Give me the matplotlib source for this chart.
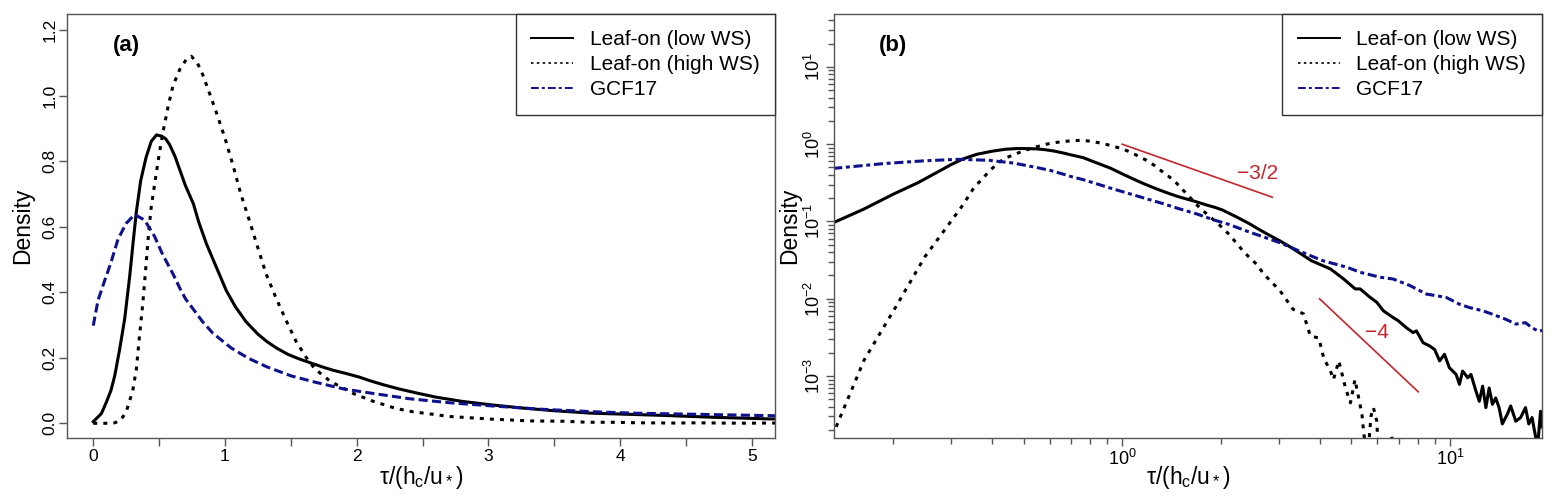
import numpy as np
import matplotlib
matplotlib.use('Agg')
import matplotlib.pyplot as plt
from matplotlib.lines import Line2D
from matplotlib.ticker import LogLocator, NullFormatter, FixedLocator

plt.rcParams['font.family'] = ['Liberation Sans', 'DejaVu Sans']
plt.rcParams['mathtext.fontset'] = 'custom'
plt.rcParams['mathtext.rm'] = 'Liberation Sans'
plt.rcParams['mathtext.it'] = 'Liberation Sans:italic'
plt.rcParams['mathtext.bf'] = 'Liberation Sans:bold'

# ---- data ----
labels = ['Leaf-on (low WS)', 'Leaf-on (high WS)', 'GCF17']

tau_low = [0.0, 0.062, 0.10, 0.134, 0.163, 0.20, 0.239, 0.277, 0.302, 0.327,
           0.36, 0.40, 0.44, 0.48, 0.52, 0.55, 0.58, 0.62, 0.66, 0.70,
           0.76, 0.80, 0.86, 0.92, 1.01, 1.08, 1.16, 1.25, 1.32, 1.39,
           1.48, 1.56, 1.66, 1.74, 1.82, 1.92, 2.02, 2.10, 2.20, 2.32,
           2.45, 2.6, 2.8, 3.03, 3.25, 3.48, 3.78, 4.32, 4.74, 5.14,
           5.32, 5.71, 5.98, 6.26, 6.71, 6.95, 7.37, 7.72, 7.90, 8.28,
           8.67, 8.98, 9.30, 9.62, 9.96, 10.44, 10.69, 10.93, 11.33, 11.59,
           12.0, 12.29, 12.58, 12.87, 13.17, 13.48, 13.79, 14.12, 14.45, 14.96,
           15.32, 15.88, 16.43, 17.0, 17.4, 17.8, 18.2, 18.5, 18.9, 19.1]
dens_low = [0.005, 0.03, 0.065, 0.10, 0.145, 0.225, 0.32, 0.45, 0.55, 0.645,
            0.74, 0.81, 0.86, 0.88, 0.876, 0.868, 0.85, 0.815, 0.77, 0.725,
            0.67, 0.615, 0.547, 0.49, 0.405, 0.355, 0.31, 0.272, 0.249, 0.23,
            0.21, 0.197, 0.183, 0.172, 0.162, 0.152, 0.141, 0.13, 0.118, 0.105,
            0.093, 0.080, 0.067, 0.056, 0.047, 0.039, 0.031, 0.0243, 0.018, 0.0134,
            0.0134, 0.0104, 0.0090, 0.0070, 0.0057, 0.0052, 0.0042, 0.00365, 0.00384, 0.0027,
            0.00245, 0.0022, 0.00157, 0.00191, 0.00128, 0.00105, 0.00078, 0.00116, 0.00095, 0.00105,
            0.00064, 0.00047, 0.00074, 0.00039, 0.0007, 0.00043, 0.00052, 0.00039, 0.00024, 0.00032,
            0.00041, 0.00026, 0.00029, 0.00039, 0.00024, 0.00029, 0.000175, 0.00012, 0.00035, 0.00022]

tau_high = [0.0, 0.134, 0.163, 0.206, 0.25, 0.30, 0.327, 0.352, 0.377, 0.40,
            0.42, 0.44, 0.466, 0.50, 0.53, 0.57, 0.605, 0.657, 0.706, 0.744,
            0.79, 0.83, 0.88, 0.933, 1.0, 1.059, 1.12, 1.186, 1.25, 1.312,
            1.39, 1.464, 1.54, 1.615, 1.68, 1.80, 1.98, 2.12, 2.30, 2.43,
            2.57, 2.70, 3.03, 3.32, 3.57, 3.75, 3.98, 4.12, 4.32, 4.41,
            4.58, 4.80, 4.97, 5.13, 5.39, 5.45, 5.6, 5.74, 5.84, 5.98,
            6.05, 6.3, 6.64, 6.9, 7.5, 10.0, 19.1]
dens_high = [0.0001, 0.00022, 0.0016, 0.0085, 0.035, 0.10, 0.165, 0.27, 0.37, 0.48,
             0.58, 0.66, 0.73, 0.82, 0.89, 0.97, 1.03, 1.08, 1.11, 1.12,
             1.10, 1.065, 1.01, 0.95, 0.87, 0.79, 0.70, 0.618, 0.535, 0.456,
             0.38, 0.314, 0.25, 0.202, 0.167, 0.128, 0.09, 0.068, 0.045, 0.035,
             0.028, 0.021, 0.0127, 0.0073, 0.0064, 0.0033, 0.0031, 0.0017, 0.00116, 0.0009,
             0.00157, 0.0007, 0.00045, 0.0009, 0.00032, 0.00019, 0.00008, 0.0003, 0.00039, 0.00026,
             0.0001, 0.00006, 0.00017, 0.00003, 0.00001, 0.000005, 0.000005]

tau_gcf = [0.0, 0.036, 0.087, 0.134, 0.188, 0.25, 0.314, 0.39, 0.466, 0.521,
           0.56, 0.605, 0.66, 0.70, 0.756, 0.83, 0.908, 1.047, 1.18, 1.32,
           1.50, 1.69, 1.90, 2.11, 2.40, 2.70, 3.03, 3.40, 3.82, 4.10,
           4.86, 5.32, 6.12, 6.71, 7.55, 8.48, 9.74, 10.69, 11.45, 12.58,
           13.48, 14.76, 15.89, 17.0, 17.8, 18.65, 19.1]
dens_gcf = [0.298, 0.375, 0.436, 0.49, 0.562, 0.61, 0.637, 0.62, 0.57, 0.52,
            0.49, 0.456, 0.41, 0.38, 0.35, 0.31, 0.275, 0.23, 0.198, 0.172,
            0.145, 0.125, 0.105, 0.092, 0.075, 0.063, 0.053, 0.043, 0.035, 0.031,
            0.0255, 0.022, 0.019, 0.018, 0.0148, 0.0115, 0.0104, 0.0085, 0.0077, 0.0070,
            0.0063, 0.00545, 0.0047, 0.0049, 0.0042, 0.0038, 0.0039]

# reference slopes in panel (b)
slope1_x = [1.0, 2.87]
slope1_y = [1.0, 0.206]
slope2_x = [4.0, 8.0]
slope2_y = [0.01, 0.000625]

series = [(np.array(tau_low), np.array(dens_low)),
          (np.array(tau_high), np.array(dens_high)),
          (np.array(tau_gcf), np.array(dens_gcf))]

navy = '#0d128c'
red = '#c4262e'
frame = '#555555'
lw = 2.2
styles_a = [dict(color='black', linestyle='-'),
            dict(color='black', linestyle=(0, (1.3, 2.0))),
            dict(color=navy, linestyle=(0, (3.0, 1.4)))]
styles_b = [dict(color='black', linestyle='-'),
            dict(color='black', linestyle=(0, (1.3, 2.0))),
            dict(color=navy, linestyle=(0, (3.0, 1.2, 1.3, 1.2)))]

leg_handles = [Line2D([], [], color='black', lw=1.4, linestyle='-'),
               Line2D([], [], color='black', lw=1.2, linestyle=(0, (1.5, 2.0))),
               Line2D([], [], color=navy, lw=1.4, linestyle=(0, (4, 1.6, 1.5, 1.6)))]

fig = plt.figure(figsize=(15.59, 5.01), dpi=100)
ax1 = fig.add_axes([0.04317, 0.1267, 0.4540, 0.8448])
ax2 = fig.add_axes([0.53496, 0.1267, 0.45394, 0.8448])

# ---- panel (a) ----
for (x, y), st in zip(series, styles_a):
    ax1.plot(x, y, lw=lw, dash_capstyle='butt', **st)
ax1.set_xlim(-0.197, 5.176)
ax1.set_ylim(-0.0433, 1.248)
xt = np.arange(0, 5.01, 0.5)
ax1.set_xticks(xt)
ax1.set_xticklabels([str(int(v)) if v == int(v) else '' for v in xt])
yt = np.arange(0, 1.21, 0.2)
ax1.set_yticks(yt)
ax1.set_yticklabels(['%.1f' % v for v in yt])
ax1.tick_params(axis='both', labelsize=12.5, length=6, width=1, color=frame, direction='out')
ax1.tick_params(axis='x', pad=2)
ax1.tick_params(axis='y', pad=1, labelrotation=90)
for lbl in ax1.get_yticklabels():
    lbl.set_va('center')
ax1.set_ylabel('Density', fontsize=16.5)
ax1.yaxis.set_label_coords(-0.047, 0.5)
ax1.set_xlabel(r'$\mathregular{\tau/(h_c/u_*)}$', fontsize=16.5)
ax1.xaxis.set_label_coords(0.5, -0.062)
ax1.text(0.083, 0.926, '(a)', transform=ax1.transAxes, fontsize=16,
         fontweight='bold', ha='center', va='center')

# ---- panel (b) ----
for (x, y), st in zip(series, styles_b):
    m = x > 0
    ax2.plot(x[m], y[m], lw=lw, dash_capstyle='butt', **st)
ax2.plot(slope1_x, slope1_y, color=red, lw=1.2)
ax2.plot(slope2_x, slope2_y, color=red, lw=1.2)
ax2.text(2.59, 0.415, '\u22123/2', color=red, fontsize=15, ha='center', va='center')
ax2.text(5.99, 0.0037, '\u22124', color=red, fontsize=15, ha='center', va='center')
ax2.set_xscale('log')
ax2.set_yscale('log')
ax2.set_xlim(0.132, 19.05)
ax2.set_ylim(1.6e-4, 48)
ax2.xaxis.set_major_locator(FixedLocator([1, 10]))
ax2.set_xticklabels([r'$\mathregular{10^{0}}$', r'$\mathregular{10^{1}}$'])
ax2.xaxis.set_minor_locator(LogLocator(base=10, subs=np.arange(2, 10)))
ax2.xaxis.set_minor_formatter(NullFormatter())
ax2.yaxis.set_major_locator(FixedLocator([1e-3, 1e-2, 1e-1, 1, 10]))
ax2.set_yticklabels([r'$\mathregular{10^{-3}}$', r'$\mathregular{10^{-2}}$',
                     r'$\mathregular{10^{-1}}$', r'$\mathregular{10^{0}}$',
                     r'$\mathregular{10^{1}}$'])
ax2.yaxis.set_minor_locator(LogLocator(base=10, subs=np.arange(2, 10)))
ax2.yaxis.set_minor_formatter(NullFormatter())
ax2.tick_params(axis='both', which='major', labelsize=13, length=6, width=1,
                color=frame, direction='out')
ax2.tick_params(axis='both', which='minor', length=4, width=1, color=frame, direction='out')
ax2.tick_params(axis='x', which='major', pad=2)
ax2.tick_params(axis='y', which='major', pad=1, labelrotation=90)
for lbl in ax2.get_yticklabels():
    lbl.set_va('center')
ax2.set_ylabel('Density', fontsize=16.5)
ax2.yaxis.set_label_coords(-0.047, 0.5)
ax2.set_xlabel(r'$\mathregular{\tau/(h_c/u_*)}$', fontsize=16.5)
ax2.xaxis.set_label_coords(0.5, -0.062)
ax2.text(0.083, 0.926, '(b)', transform=ax2.transAxes, fontsize=16,
         fontweight='bold', ha='center', va='center')

for ax in (ax1, ax2):
    for sp in ax.spines.values():
        sp.set_color(frame)
        sp.set_linewidth(1)
    leg = ax.legend(leg_handles, labels, loc='upper right', bbox_to_anchor=(1, 1),
                    borderaxespad=0, fancybox=False, edgecolor='#333333', framealpha=1,
                    fontsize=15, handlelength=2.0, handletextpad=0.8, borderpad=0.75,
                    labelspacing=0.3)
    leg.get_frame().set_linewidth(1)

fig.savefig('out.png', dpi=100)
